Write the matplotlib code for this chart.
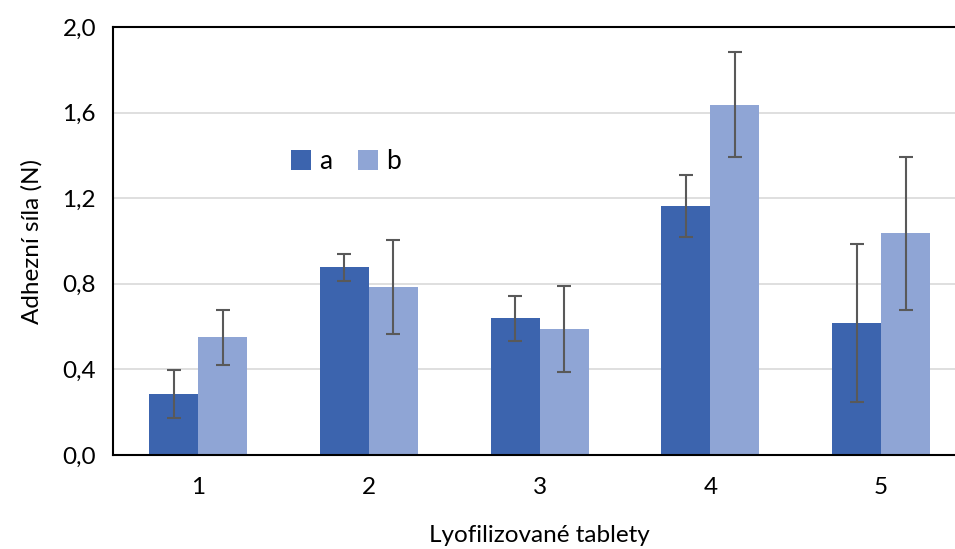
import numpy as np
import matplotlib.pyplot as plt

plt.rcParams['font.family'] = ['Lato', 'DejaVu Sans']

categories = ['1', '2', '3', '4', '5']
a_values = [0.285, 0.878, 0.640, 1.164, 0.617]
a_err = [0.112, 0.063, 0.105, 0.145, 0.370]
b_values = [0.551, 0.785, 0.589, 1.636, 1.037]
b_err = [0.129, 0.220, 0.200, 0.245, 0.357]

fig = plt.figure(figsize=(9.55, 5.49), dpi=100)
ax = fig.add_axes([0.118, 0.171, 0.894, 0.780])

x = np.arange(1, len(categories) + 1)
w = 0.287
err_style = dict(ecolor='#595959', elinewidth=1.5, capsize=5, capthick=1.5)
ax.bar(x - w / 2, a_values, w, yerr=a_err, color='#3C64AE', label='a', error_kw=err_style, zorder=2)
ax.bar(x + w / 2, b_values, w, yerr=b_err, color='#8FA5D5', label='b', error_kw=err_style, zorder=2)

ax.set_xlim(0.5, 5.5)
ax.set_ylim(0, 2.0)
ax.set_yticks([0, 0.4, 0.8, 1.2, 1.6, 2.0])
ax.set_yticklabels(['0,0', '0,4', '0,8', '1,2', '1,6', '2,0'])
ax.set_xticks(x)
ax.set_xticklabels(categories)
ax.tick_params(length=0, labelsize=17.5, pad=12)
ax.tick_params(axis='x', pad=16)
ax.yaxis.grid(True, color='#D9D9D9', linewidth=1.2, zorder=0)
ax.set_axisbelow(True)
for s in ax.spines.values():
    s.set_color('black')
    s.set_linewidth(1.5)

ax.set_xlabel('Lyofilizované tablety', fontsize=17.5, labelpad=19)
ax.set_ylabel('Adhezní síla (N)', fontsize=17.5, labelpad=14)

ax.legend(loc='upper left', bbox_to_anchor=(0.181, 0.77), ncol=2, frameon=False,
          fontsize=19, handlelength=0.75, handleheight=0.75, handletextpad=0.3, columnspacing=1.0)

fig.savefig('out.png', dpi=100)
